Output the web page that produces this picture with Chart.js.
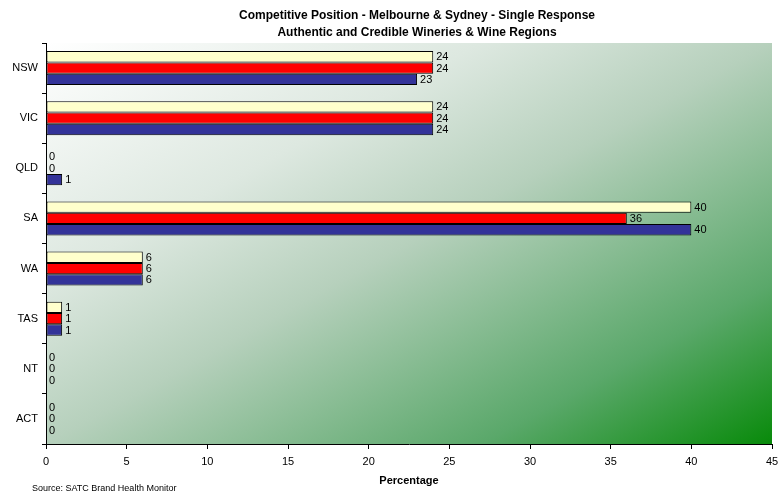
<!DOCTYPE html>
<html>
<head>
<meta charset="utf-8">
<script src="https://cdn.jsdelivr.net/npm/chart.js@4/dist/chart.umd.min.js"></script>
<style>
  html, body { margin: 0; padding: 0; background: #fff; }
  #wrap { width: 782px; height: 497px; }
</style>
</head>
<body>
<div id="wrap"><canvas id="c" width="782" height="497"></canvas></div>
<script>
// Regions and survey results (percentage of respondents)
const regions = ['NSW', 'VIC', 'QLD', 'SA', 'WA', 'TAS', 'NT', 'ACT'];
const seriesA = [24, 24, 0, 40, 6, 1, 0, 0];
const seriesB = [24, 24, 0, 36, 6, 1, 0, 0];
const seriesC = [23, 24, 1, 40, 6, 1, 0, 0];
const xTicks = [0, 5, 10, 15, 20, 25, 30, 35, 40, 45];

const titleLines = [
  'Competitive Position - Melbourne & Sydney - Single Response',
  'Authentic and Credible Wineries & Wine Regions'
];
const axisTitle = 'Percentage';
const sourceNote = 'Source: SATC Brand Health Monitor';

const FONT = 'Arial, "Liberation Sans", sans-serif';

// Corner-to-corner white-to-green fill behind the plot (computed in unit space
// so the colour bands run from the bottom-left corner to the top-right corner)
const plotBackground = {
  id: 'plotBackground',
  beforeDraw(chart) {
    const { ctx, chartArea: a } = chart;
    ctx.save();
    ctx.translate(a.left, a.top);
    ctx.scale(a.right - a.left, a.bottom - a.top);
    const g = ctx.createLinearGradient(0, 0, 1, 1);
    g.addColorStop(0, '#ffffff');
    g.addColorStop(0.3, '#dde8e0');
    g.addColorStop(0.5, '#b6d0bc');
    g.addColorStop(0.8, '#5aa86a');
    g.addColorStop(1, '#088a0a');
    ctx.fillStyle = g;
    ctx.fillRect(0, 0, 1, 1);
    ctx.restore();
  }
};

// Value labels at the end of each bar, plus titles and source note
const annotations = {
  id: 'annotations',
  afterDatasetsDraw(chart) {
    const { ctx } = chart;
    ctx.save();
    ctx.fillStyle = '#000';
    ctx.font = '11px ' + FONT;
    ctx.textAlign = 'left';
    ctx.textBaseline = 'middle';
    chart.data.datasets.forEach((ds, i) => {
      chart.getDatasetMeta(i).data.forEach((bar, j) => {
        ctx.fillText(String(ds.data[j]), bar.x + 3, bar.y + 0.5);
      });
    });
    ctx.restore();
  },
  afterDraw(chart) {
    const { ctx, chartArea: a } = chart;
    ctx.save();
    ctx.fillStyle = '#000';
    ctx.textAlign = 'center';
    ctx.textBaseline = 'middle';
    ctx.font = 'bold 12px ' + FONT;
    ctx.fillText(titleLines[0], 417, 16);
    ctx.fillText(titleLines[1], 417, 33);
    ctx.font = 'bold 11px ' + FONT;
    ctx.fillText(axisTitle, (a.left + a.right) / 2, 481);
    ctx.textAlign = 'left';
    ctx.font = '9px ' + FONT;
    ctx.fillText(sourceNote, 32, 489);
    ctx.restore();
  }
};

const zeroAware = (ctx) => (ctx.raw === 0 ? 0 : 1);

new Chart(document.getElementById('c'), {
  type: 'bar',
  data: {
    labels: regions,
    datasets: [
      { label: 'A', data: seriesA, backgroundColor: '#ffffcc', borderColor: '#000', borderWidth: zeroAware, borderSkipped: false },
      { label: 'B', data: seriesB, backgroundColor: '#ff0000', borderColor: '#000', borderWidth: zeroAware, borderSkipped: false },
      { label: 'C', data: seriesC, backgroundColor: '#333399', borderColor: '#000', borderWidth: zeroAware, borderSkipped: false }
    ]
  },
  options: {
    indexAxis: 'y',
    responsive: false,
    animation: false,
    devicePixelRatio: 1,
    layout: { padding: { top: 43, right: 10, bottom: 0, left: 0 } },
    datasets: { bar: { categoryPercentage: 0.68, barPercentage: 1 } },
    plugins: {
      legend: { display: false },
      title: { display: false },
      tooltip: { enabled: false }
    },
    scales: {
      x: {
        type: 'linear',
        min: 0,
        max: 45,
        afterBuildTicks(scale) { scale.ticks = xTicks.map(v => ({ value: v })); },
        afterFit(scale) {
          scale.height = 53;
          scale.paddingLeft = 0;
          scale.paddingRight = 0;
        },
        border: { display: true, color: '#000', width: 1 },
        grid: { display: true, drawOnChartArea: false, drawTicks: true, tickLength: 5, color: '#000' },
        ticks: { color: '#000', font: { family: FONT, size: 11 }, padding: 6, maxRotation: 0 }
      },
      y: {
        type: 'category',
        afterFit(scale) { scale.width = 46; },
        border: { display: true, color: '#000', width: 1 },
        grid: { display: true, offset: true, drawOnChartArea: false, drawTicks: true, tickLength: 4, color: '#000' },
        ticks: { color: '#000', font: { family: FONT, size: 11 }, padding: 4 }
      }
    }
  },
  plugins: [plotBackground, annotations]
});
</script>
</body>
</html>
